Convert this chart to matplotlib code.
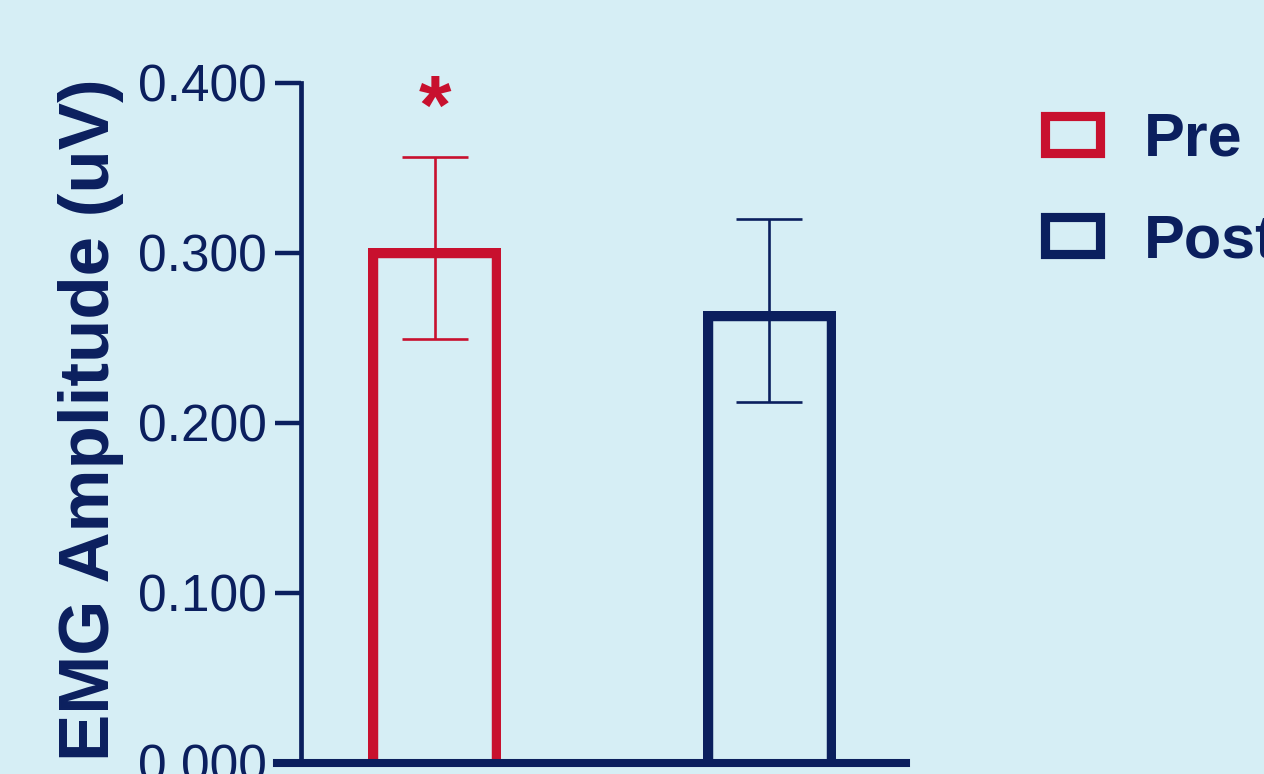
import matplotlib
matplotlib.use("Agg")
import matplotlib.pyplot as plt
from matplotlib.ticker import FormatStrFormatter
from matplotlib.transforms import TransformedPath

# ---- data ----
groups = ["Pre", "Post"]
means = [0.303, 0.266]
errors = [0.0535, 0.054]
sig_marks = ["*", ""]
y_ticks = [0.0, 0.1, 0.2, 0.3, 0.4]
y_label = "EMG Amplitude (uV)"

# ---- style ----
BG = "#d6eef5"
RED = "#c8102e"
NAVY = "#0b1f5e"
colors = [RED, NAVY]
plt.rcParams['font.family'] = ['Liberation Sans', 'DejaVu Sans']

W, H = 1264, 774
fig = plt.figure(figsize=(W / 100, H / 100), dpi=100, facecolor=BG)
ax_l, ax_r = 301 / W, 906 / W
ax_b, ax_t = 1 - 762.7 / H, 1 - 82.7 / H
ax = fig.add_axes([ax_l, ax_b, ax_r - ax_l, ax_t - ax_b], facecolor=BG)

xpos = list(range(len(groups)))
# bars drawn with their border inside the bar outline (as in GraphPad Prism)
below = 0.006
bars = ax.bar(xpos, [m + below for m in means], bottom=-below, width=0.398,
              facecolor="none", edgecolor=colors, linewidth=14.0, zorder=2)
for b, lab in zip(bars, groups):
    b.set_label(lab)
    b.set_clip_path(TransformedPath(b.get_path(), b.get_transform()))
for x, m, e, c in zip(xpos, means, errors, colors):
    ax.errorbar(x, m, yerr=e, fmt="none", ecolor=c, elinewidth=1.9,
                capsize=23.8, capthick=1.9, zorder=3)
for x, s, c in zip(xpos, sig_marks, colors):
    if s:
        ax.text(x, 0.383, s, ha="center", va="center", color=c,
                fontsize=60, fontweight="bold")

ax.set_xlim(-0.401, 1.41)
ax.set_ylim(0, 0.4)
ax.set_yticks(y_ticks)
ax.yaxis.set_major_formatter(FormatStrFormatter("%.3f"))
ax.tick_params(axis="y", length=18.7, width=3.2, color=NAVY, labelcolor=NAVY,
               labelsize=37, pad=6)
ax.set_xticks([])
for side in ("top", "right"):
    ax.spines[side].set_visible(False)
ax.spines["left"].set_linewidth(3.4)
ax.spines["left"].set_color(NAVY)
ax.spines["bottom"].set_linewidth(5.8)
ax.spines["bottom"].set_color(NAVY)
ax.spines["left"].set_zorder(4)
ax.spines["bottom"].set_zorder(4)
ax.spines["bottom"].set_bounds(-0.401 - 24 / 334, 1.41)
ax.spines["bottom"].set_clip_on(False)

fig.text(109 / W, 1 - 761 / H, y_label, rotation=90, rotation_mode="anchor",
         ha="left", va="baseline", color=NAVY, fontsize=51, fontweight="bold")

leg = fig.legend(handles=list(bars), labels=groups, loc="upper left",
                 bbox_to_anchor=(1044.5 / W, 1 - 112 / H), frameon=False,
                 prop={"weight": "bold", "size": 44},
                 handlelength=0.9, handleheight=0.555, handletextpad=0.73,
                 labelspacing=0.72, borderpad=0, borderaxespad=0)
for t in leg.get_texts():
    t.set_color(NAVY)
for h in leg.legend_handles:
    h.set_linewidth(6.6)
    h.set_clip_path(None)

fig.savefig("out.png", dpi=100, facecolor=BG)
